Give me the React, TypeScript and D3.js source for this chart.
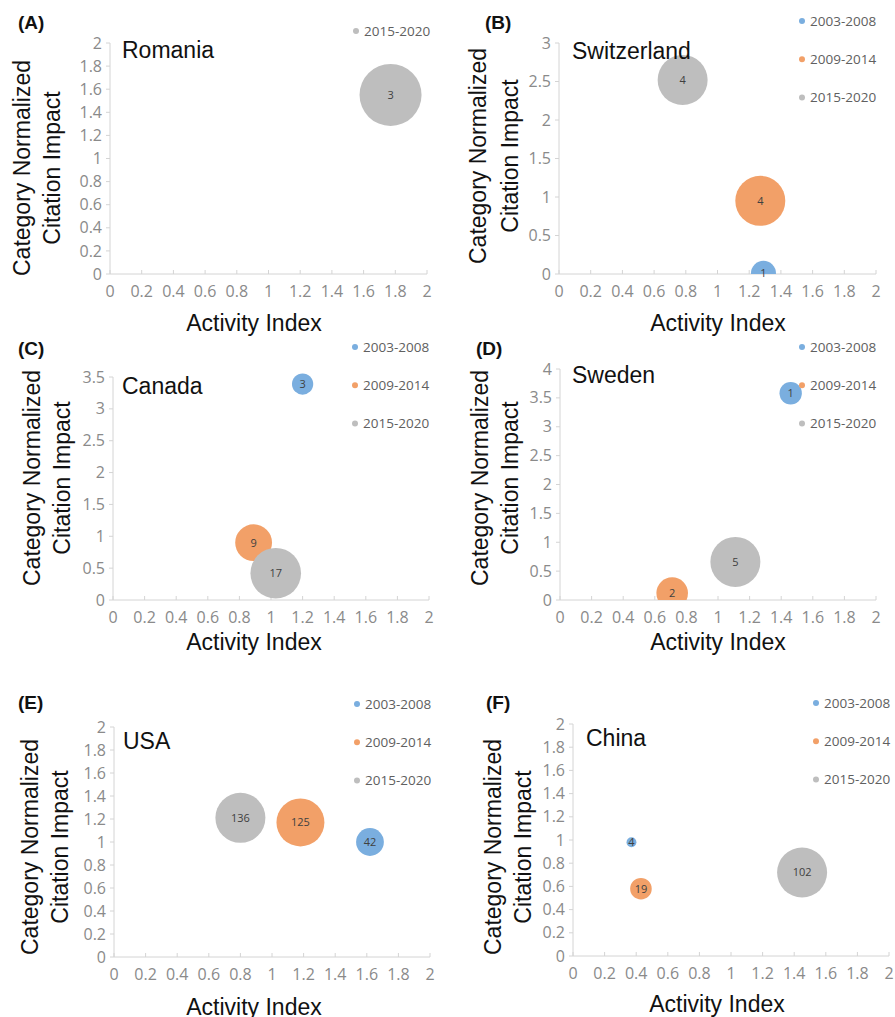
import React from "react";
import * as d3 from "d3";

// periods (series) and their colours
const periods = ["2003-2008", "2009-2014", "2015-2020"];
const periodColors = ["#7AAEDF", "#F2A068", "#BEBEBE"];

const panelTags = ["(A)", "(B)", "(C)", "(D)", "(E)", "(F)"];
const countries = ["Romania", "Switzerland", "Canada", "Sweden", "USA", "China"];

const xTickValues = [0, 0.2, 0.4, 0.6, 0.8, 1, 1.2, 1.4, 1.6, 1.8, 2];
const yTicks2 = [0, 0.2, 0.4, 0.6, 0.8, 1, 1.2, 1.4, 1.6, 1.8, 2];
const yTicks3 = [0, 0.5, 1, 1.5, 2, 2.5, 3];
const yTicks35 = [0, 0.5, 1, 1.5, 2, 2.5, 3, 3.5];
const yTicks4 = [0, 0.5, 1, 1.5, 2, 2.5, 3, 3.5, 4];
const yTickSets = [yTicks2, yTicks3, yTicks35, yTicks4, yTicks2, yTicks2];

// which periods appear in each legend
const legendPeriods = [[2], [0, 1, 2], [0, 1, 2], [0, 1, 2], [0, 1, 2], [0, 1, 2]];

// p = period index, ai = activity index, cnci = citation impact, n = papers
const romania = [{ p: 2, ai: 1.77, cnci: 1.55, n: 3 }];
const switzerland = [
  { p: 0, ai: 1.29, cnci: 0.01, n: 1 },
  { p: 1, ai: 1.27, cnci: 0.95, n: 4 },
  { p: 2, ai: 0.78, cnci: 2.52, n: 4 },
];
const canada = [
  { p: 0, ai: 1.2, cnci: 3.39, n: 3 },
  { p: 1, ai: 0.89, cnci: 0.9, n: 9 },
  { p: 2, ai: 1.03, cnci: 0.42, n: 17 },
];
const sweden = [
  { p: 0, ai: 1.46, cnci: 3.58, n: 1 },
  { p: 1, ai: 0.71, cnci: 0.12, n: 2 },
  { p: 2, ai: 1.11, cnci: 0.66, n: 5 },
];
const usa = [
  { p: 0, ai: 1.62, cnci: 1.0, n: 42 },
  { p: 1, ai: 1.18, cnci: 1.17, n: 125 },
  { p: 2, ai: 0.8, cnci: 1.21, n: 136 },
];
const china = [
  { p: 0, ai: 0.37, cnci: 0.98, n: 4 },
  { p: 1, ai: 0.43, cnci: 0.58, n: 19 },
  { p: 2, ai: 1.45, cnci: 0.72, n: 102 },
];
const bubbleSets = [romania, switzerland, canada, sweden, usa, china];

// layout of each panel (pixels)
const frames = [
  { left: 110, top: 43, right: 427, bottom: 274, rMax: 31, tag: [18, 29], name: [122, 58], legend: [356, 31], xTitle: [254, 331], yTitle: [30, 60, 168] },
  { left: 559, top: 43, right: 876, bottom: 274, rMax: 25, tag: [485, 29], name: [572, 59], legend: [802, 21], xTitle: [718, 331], yTitle: [486, 518, 156] },
  { left: 113, top: 377, right: 429, bottom: 600, rMax: 25.3, tag: [18, 355], name: [122, 394], legend: [355, 347], xTitle: [254, 650], yTitle: [40, 70, 478] },
  { left: 560, top: 369, right: 876, bottom: 600, rMax: 25, tag: [476, 355], name: [572, 383], legend: [802, 347], xTitle: [718, 650], yTitle: [488, 518, 478] },
  { left: 114, top: 727, right: 430, bottom: 957, rMax: 25, tag: [18, 709], name: [123, 749], legend: [357, 704], xTitle: [254, 1015], yTitle: [38, 68, 847] },
  { left: 573, top: 724, right: 889, bottom: 956, rMax: 25, tag: [486, 709], name: [586, 746], legend: [816, 703], xTitle: [717, 1012], yTitle: [501, 531, 847] },
];

const arial = "'Liberation Sans', Arial, sans-serif";
const tickFont = "'Open Sans', sans-serif";
const axisColor = "#D4D4D4";
const tickColor = "#8A8A8A";

const fmt = (v: number) => String(Math.round(v * 10) / 10);

function Panel({ i }: { i: number }) {
  const f = frames[i];
  const yTicks = yTickSets[i];
  const x = d3.scaleLinear().domain([0, 2]).range([f.left, f.right]);
  const y = d3.scaleLinear().domain([0, d3.max(yTicks)!]).range([f.bottom, f.top]);
  const bubbles = bubbleSets[i];
  const r = d3.scaleSqrt().domain([0, d3.max(bubbles, (b) => b.n)!]).range([0, f.rMax]);
  const clipId = `clip-${i}`;

  return (
    <g>
      <defs>
        <clipPath id={clipId}>
          <rect x={f.left} y={f.top - 40} width={f.right - f.left + 10} height={f.bottom - f.top + 40} />
        </clipPath>
      </defs>

      {/* axes */}
      <line x1={f.left} x2={f.right} y1={f.bottom} y2={f.bottom} stroke={axisColor} />
      <line x1={f.left} x2={f.left} y1={f.top} y2={f.bottom} stroke={axisColor} />
      {xTickValues.map((t) => (
        <g key={`x${t}`}>
          <line x1={x(t)} x2={x(t)} y1={f.bottom} y2={f.bottom - 4} stroke={axisColor} />
          <text x={x(t)} y={f.bottom + 23} textAnchor="middle" fontFamily={tickFont} fontSize={16} fill={tickColor}>
            {fmt(t)}
          </text>
        </g>
      ))}
      {yTicks.map((t) => (
        <g key={`y${t}`}>
          <line x1={f.left - 4} x2={f.left} y1={y(t)} y2={y(t)} stroke={axisColor} />
          <text x={f.left - 8} y={y(t)} dy="0.35em" textAnchor="end" fontFamily={tickFont} fontSize={16} fill={tickColor}>
            {fmt(t)}
          </text>
        </g>
      ))}

      {/* bubbles */}
      <g clipPath={`url(#${clipId})`}>
        {bubbles.map((b, k) => (
          <circle key={k} cx={x(b.ai)} cy={y(b.cnci)} r={r(b.n)} fill={periodColors[b.p]} />
        ))}
      </g>
      {bubbles.map((b, k) => (
        <text key={`l${k}`} x={x(b.ai)} y={y(b.cnci)} dy="0.35em" textAnchor="middle" fontFamily={tickFont} fontSize={11} fill="#404040">
          {b.n}
        </text>
      ))}

      {/* legend */}
      {legendPeriods[i].map((p, k) => (
        <g key={`g${p}`}>
          <circle cx={f.legend[0]} cy={f.legend[1] + k * 38.3} r={3} fill={periodColors[p]} />
          <text x={f.legend[0] + 8} y={f.legend[1] + k * 38.3} dy="0.35em" fontFamily={tickFont} fontSize={13.5} fill="#606060">
            {periods[p]}
          </text>
        </g>
      ))}

      {/* titles */}
      <text x={f.tag[0]} y={f.tag[1]} fontFamily={arial} fontWeight="bold" fontSize={19} fill="#111">
        {panelTags[i]}
      </text>
      <text x={f.name[0]} y={f.name[1]} fontFamily={arial} fontSize={23} fill="#111">
        {countries[i]}
      </text>
      <text x={f.xTitle[0]} y={f.xTitle[1]} textAnchor="middle" fontFamily={arial} fontSize={23} fill="#111">
        Activity Index
      </text>
      <text transform={`translate(${f.yTitle[0]},${f.yTitle[2]}) rotate(-90)`} textAnchor="middle" fontFamily={arial} fontSize={23} fill="#111">
        Category Normalized
      </text>
      <text transform={`translate(${f.yTitle[1]},${f.yTitle[2]}) rotate(-90)`} textAnchor="middle" fontFamily={arial} fontSize={23} fill="#111">
        Citation Impact
      </text>
    </g>
  );
}

export default function App() {
  return (
    <svg width={895} height={1017} style={{ position: "absolute", left: 0, top: 0, background: "#fff" }}>
      <rect width={895} height={1017} fill="#fff" />
      {frames.map((_, i) => (
        <Panel key={i} i={i} />
      ))}
    </svg>
  );
}
